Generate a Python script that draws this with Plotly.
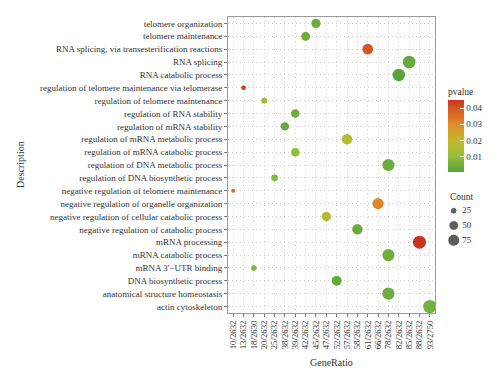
import plotly.graph_objects as go
import math

descriptions = [
    "telomere organization",
    "telomere maintenance",
    "RNA splicing, via transesterification reactions",
    "RNA splicing",
    "RNA catabolic process",
    "regulation of telomere maintenance via telomerase",
    "regulation of telomere maintenance",
    "regulation of RNA stability",
    "regulation of mRNA stability",
    "regulation of mRNA metabolic process",
    "regulation of mRNA catabolic process",
    "regulation of DNA metabolic process",
    "regulation of DNA biosynthetic process",
    "negative regulation of telomere maintenance",
    "negative regulation of organelle organization",
    "negative regulation of cellular catabolic process",
    "negative regulation of catabolic process",
    "mRNA processing",
    "mRNA catabolic process",
    "mRNA 3'\u2212UTR binding",
    "DNA biosynthetic process",
    "anatomical structure homeostasis",
    "actin cytoskeleton",
]

gene_ratio = [
    "45/2632", "42/2632", "61/2632", "85/2632", "82/2632",
    "13/2632", "20/2632", "39/2632", "38/2632", "57/2632",
    "39/2632", "78/2632", "25/2632", "10/2632", "66/2632",
    "47/2632", "58/2632", "88/2632", "78/2632", "18/2630",
    "52/2632", "78/2632", "93/2750",
]

counts = [45, 42, 61, 85, 82, 13, 20, 39, 38, 57, 39, 78, 25, 10, 66,
          47, 58, 88, 78, 18, 52, 78, 93]

pvalues = [0.004, 0.004, 0.040, 0.003, 0.0005, 0.044, 0.012, 0.004, 0.003,
           0.017, 0.010, 0.004, 0.007, 0.037, 0.031, 0.016, 0.003, 0.045,
           0.004, 0.007, 0.003, 0.004, 0.005]

ratio_order = ["10/2632", "13/2632", "18/2630", "20/2632", "25/2632",
               "38/2632", "39/2632", "42/2632", "45/2632", "47/2632",
               "52/2632", "57/2632", "58/2632", "61/2632", "66/2632",
               "78/2632", "82/2632", "85/2632", "88/2632", "93/2750"]

size_legend = [25, 50, 75]
size_legend_labels = [str(s) for s in size_legend]
pvalue_ticks = [0.01, 0.02, 0.03, 0.04]


def size_scale(c):
    # area-proportional size scale (diameter in px)
    return math.sqrt(max(-4 + 1.97 * c, 4))


# the page body has an 8px default margin; lay out in window pixels
OX, OY = 8, 8
W, H = 500 - OX, 383 - OY


def xp(px):
    return (px - OX) / W


def yp(py):
    return (H - (py - OY)) / H


FONT = "Liberation Serif"
TXT = "#333333"
GRID = "#cdcdcd"
colorscale = [
    [0.0, "#58a33d"],
    [0.21, "#92be3a"],
    [0.43, "#c4b92e"],
    [0.655, "#e08e28"],
    [0.88, "#d55822"],
    [1.0, "#cc3220"],
]

fig = go.Figure()
fig.add_trace(go.Scatter(
    x=gene_ratio, y=descriptions, mode="markers",
    marker=dict(
        size=[size_scale(c) for c in counts],
        color=pvalues, colorscale=colorscale,
        cmin=min(pvalues), cmax=max(pvalues),
        line=dict(width=0), opacity=1,
        colorbar=dict(
            title=dict(text="pvalue", font=dict(family=FONT, size=9.5, color=TXT), side="top"),
            xref="container", yref="container",
            x=xp(448), xanchor="left", y=yp(85), yanchor="top",
            len=87, lenmode="pixels", thickness=16,
            tickvals=pvalue_ticks,
            ticks="inside", ticklen=4, tickcolor="white",
            tickfont=dict(family=FONT, size=9, color=TXT),
            outlinewidth=0, xpad=0, ypad=0,
        ),
    ),
    showlegend=False, hoverinfo="skip",
))

# size legend (Count)
fig.add_trace(go.Scatter(
    x=[0] * len(size_legend), y=size_legend_labels, mode="markers",
    marker=dict(size=[size_scale(s) for s in size_legend], color="#1a1a1a"),
    xaxis="x2", yaxis="y2", showlegend=False, hoverinfo="skip",
))
fig.add_trace(go.Scatter(
    x=[0.75] * len(size_legend), y=size_legend_labels, mode="text",
    text=size_legend_labels, textposition="middle right",
    textfont=dict(family=FONT, size=9, color=TXT),
    xaxis="x2", yaxis="y2", showlegend=False, hoverinfo="skip",
))

fig.add_annotation(
    text="Count", xref="paper", yref="paper", x=xp(448), y=yp(197),
    xanchor="left", yanchor="middle", showarrow=False,
    font=dict(family=FONT, size=9.5, color=TXT),
)
fig.add_annotation(
    text="GeneRatio", xref="paper", yref="paper", x=xp(331), y=yp(362),
    xanchor="center", yanchor="middle", showarrow=False,
    font=dict(family=FONT, size=10, color=TXT),
)
fig.add_annotation(
    text="Description", xref="paper", yref="paper", x=xp(20), y=yp(165),
    xanchor="center", yanchor="middle", showarrow=False, textangle=-90,
    font=dict(family=FONT, size=10, color=TXT),
)

fig.update_layout(
    template="none",
    width=W, height=H,
    margin=dict(l=0, r=0, t=0, b=0, autoexpand=False),
    paper_bgcolor="white", plot_bgcolor="white",
    font=dict(family=FONT, size=9, color=TXT),
    showlegend=False,
    xaxis=dict(
        domain=[xp(228), xp(435)],
        type="category", categoryorder="array", categoryarray=ratio_order,
        tickmode="array", tickvals=ratio_order, ticktext=ratio_order,
        tickangle=-90, tickfont=dict(family=FONT, size=8.8, color=TXT),
        showgrid=True, gridcolor=GRID, griddash="1px,3px", gridwidth=1,
        showline=True, linecolor="#9a9a9a", mirror=True, linewidth=1,
        ticks="outside", ticklen=3, tickcolor="#777", zeroline=False,
        automargin=False,
        range=[-0.5, len(ratio_order) - 0.5],
    ),
    yaxis=dict(
        domain=[yp(313), yp(17)],
        type="category", categoryorder="array", categoryarray=descriptions,
        tickmode="array", tickvals=descriptions, ticktext=descriptions,
        range=[len(descriptions) - 0.5, -0.5],
        tickfont=dict(family=FONT, size=9, color=TXT),
        showgrid=True, gridcolor=GRID, griddash="1px,3px", gridwidth=1,
        showline=True, linecolor="#9a9a9a", mirror=True, linewidth=1,
        ticks="outside", ticklen=3, tickcolor="#777", zeroline=False,
        automargin=False,
    ),
    xaxis2=dict(domain=[xp(448), xp(488)], range=[-0.5, 3], visible=False,
                fixedrange=True),
    yaxis2=dict(domain=[yp(255), yp(196)], type="category",
                categoryorder="array", categoryarray=size_legend_labels,
                range=[3, -1], visible=False, fixedrange=True),
)

fig.write_html("out.html")
